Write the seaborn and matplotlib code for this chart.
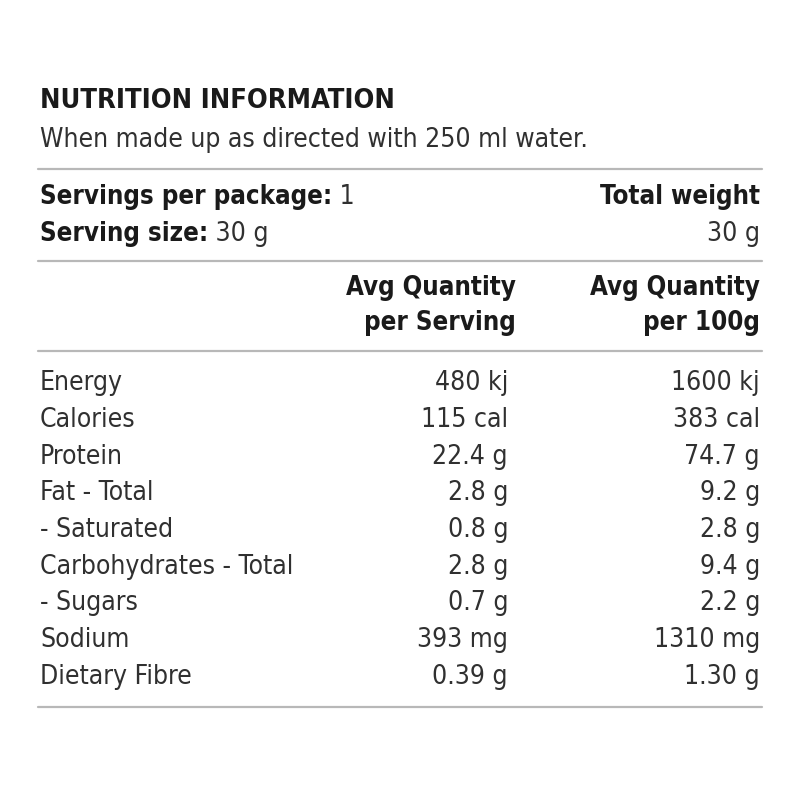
import matplotlib
matplotlib.use("Agg")
import matplotlib.pyplot as plt
import seaborn as sns
from matplotlib import font_manager

# Label content
title = "NUTRITION INFORMATION"
subtitle = "When made up as directed with 250 ml water."
servings_label = "Servings per package:"
servings_value = "1"
size_label = "Serving size:"
size_value = "30 g"
total_label = "Total weight"
total_value = "30 g"
col_headers = ["Avg Quantity\nper Serving", "Avg Quantity\nper 100g"]

nutrients = ["Energy", "Calories", "Protein", "Fat - Total", "- Saturated",
             "Carbohydrates - Total", "- Sugars", "Sodium", "Dietary Fibre"]
per_serving = ["480 kj", "115 cal", "22.4 g", "2.8 g", "0.8 g",
               "2.8 g", "0.7 g", "393 mg", "0.39 g"]
per_100g = ["1600 kj", "383 cal", "74.7 g", "9.2 g", "2.8 g",
            "9.4 g", "2.2 g", "1310 mg", "1.30 g"]

sns.set_theme(style="white")

# the label uses a condensed face; use one if installed
cond = sorted({f.name for f in font_manager.fontManager.ttflist
               if f.stretch == "condensed"})
family = "DejaVu Sans" if "DejaVu Sans" in cond else (cond[0] if cond else "DejaVu Sans")
plt.rcParams["font.family"] = [family, "DejaVu Sans"]
plt.rcParams["font.stretch"] = "condensed"

fig = plt.figure(figsize=(8, 8), dpi=100)
ax = fig.add_axes([0, 0, 1, 1])
ax.set_xlim(0, 800)
ax.set_ylim(800, 0)
ax.axis("off")

dark = "#1a1a1a"
body = "#303030"
rule = "#b8b8b8"
left, right1, right2 = 40, 508, 760
fs = 19

ax.text(left, 101, title, fontsize=19.5, fontweight="bold", color=dark, va="center")
ax.text(left, 140, subtitle, fontsize=fs, color=body, va="center")
ax.plot([38, 762], [169, 169], color=rule, lw=1.6)

t = ax.text(left, 197, servings_label, fontsize=18.5, fontweight="bold", color=dark, va="center")
ax.annotate(" " + servings_value, xycoords=t, xy=(1, 0.5), va="center",
            fontsize=fs, color=body)
t = ax.text(left, 234, size_label, fontsize=18.5, fontweight="bold", color=dark, va="center")
ax.annotate(" " + size_value, xycoords=t, xy=(1, 0.5), va="center",
            fontsize=fs, color=body)
ax.text(right2, 197, total_label, fontsize=18.5, fontweight="bold", color=dark,
        va="center", ha="right")
ax.text(right2, 234, total_value, fontsize=fs, color=body, va="center", ha="right")
ax.plot([38, 762], [261, 261], color=rule, lw=1.6)

for x, head in zip([516, right2], col_headers):
    for k, line in enumerate(head.split("\n")):
        ax.text(x, 288 + 35 * k, line, fontsize=18.5, fontweight="bold", color=dark,
                va="center", ha="right")
ax.plot([38, 762], [351, 351], color=rule, lw=1.6)

for i, (name, a, b) in enumerate(zip(nutrients, per_serving, per_100g)):
    y = 383 + 36.75 * i
    ax.text(left, y, name, fontsize=fs, color=body, va="center")
    ax.text(right1, y, a, fontsize=fs, color=body, va="center", ha="right")
    ax.text(right2, y, b, fontsize=fs, color=body, va="center", ha="right")
ax.plot([38, 762], [707, 707], color=rule, lw=1.6)

fig.savefig("out.png", dpi=100, facecolor="white")
